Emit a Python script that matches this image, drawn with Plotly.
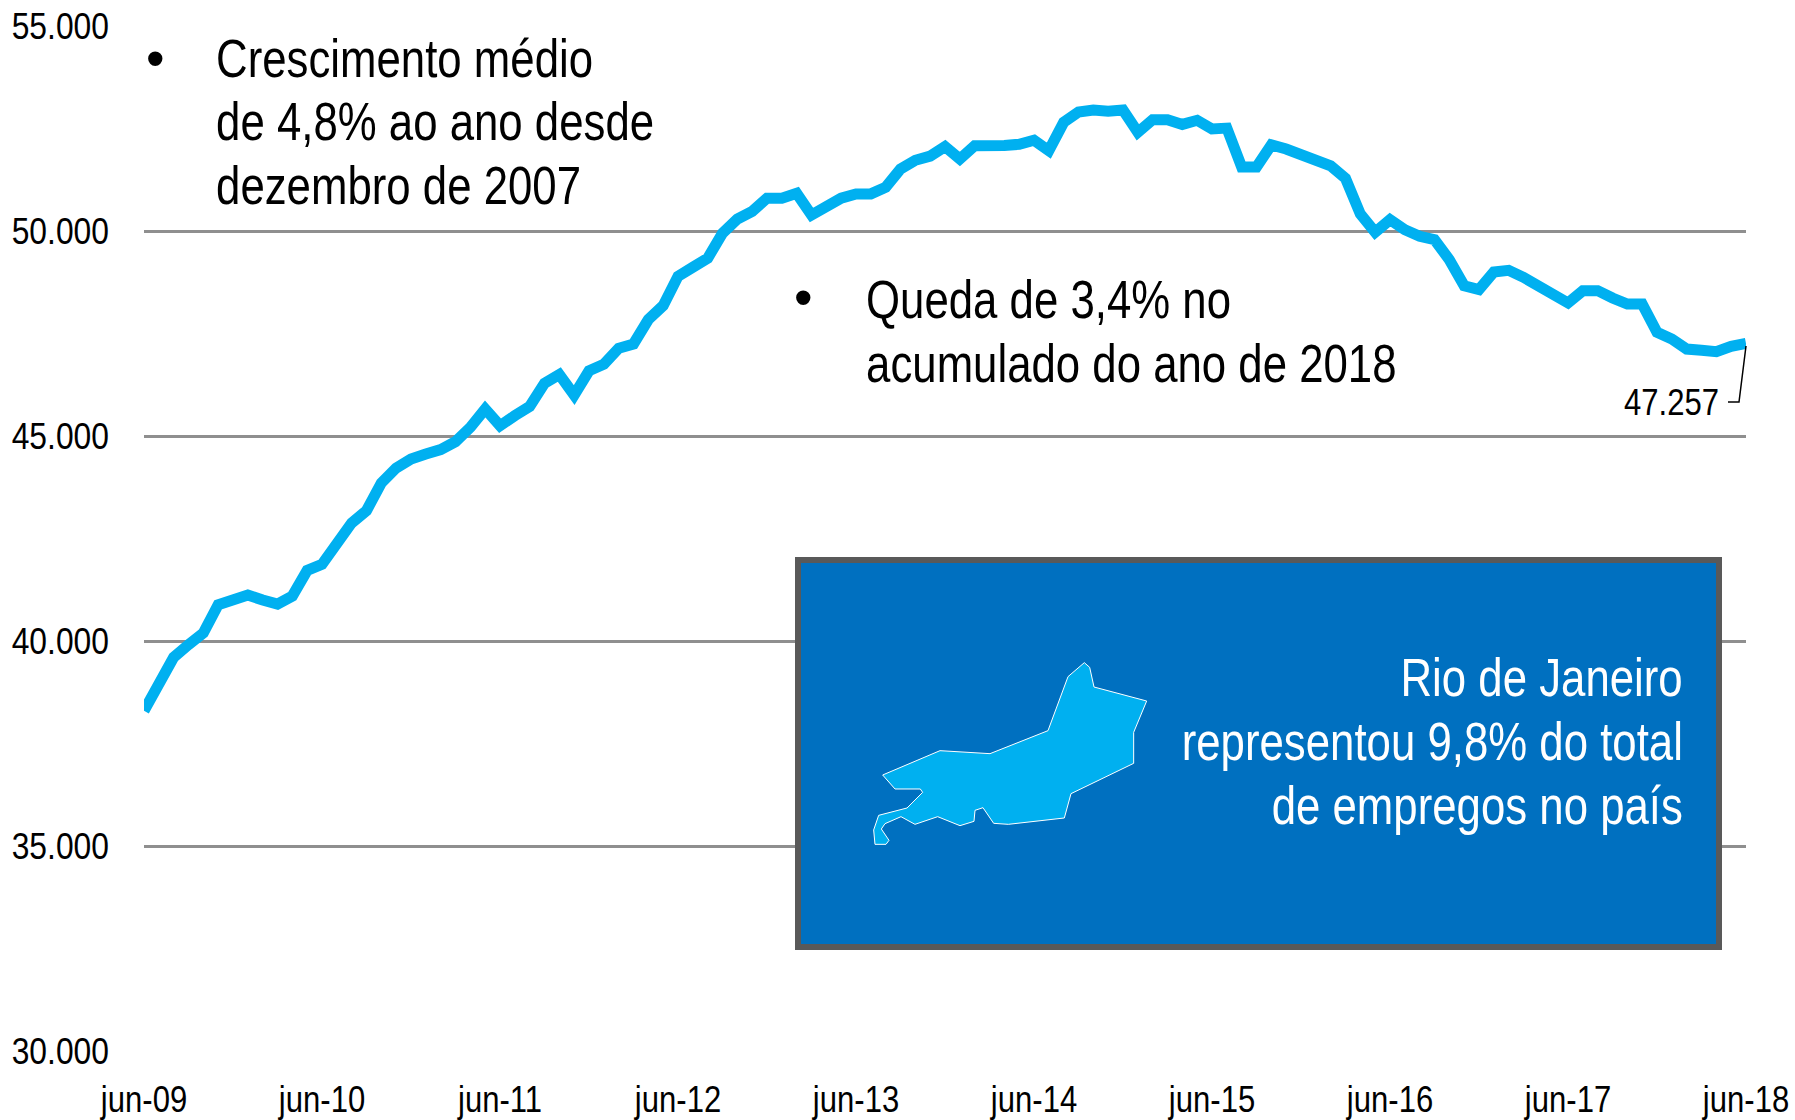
import plotly.graph_objects as go

MONTHS = ["jan", "fev", "mar", "abr", "mai", "jun", "jul", "ago", "set", "out", "nov", "dez"]
categories = []
for yy in range(9, 19):
    for m, name in enumerate(MONTHS):
        if (yy == 9 and m < 5) or (yy == 18 and m > 5):
            continue
        categories.append(f"{name}-{yy:02d}")

values = [
    38300, 39000, 39600, 39910, 40195, 40885, 41020, 41120, 41000, 40900,
    41095, 41720, 41870, 42410, 42880, 43180, 43855, 44220, 44440, 44560,
    44670, 44860, 45210, 45660, 45250, 45495, 45720, 46285, 46500, 46000,
    46590, 46750, 47140, 47245, 47840, 48180, 48895, 49115, 49335, 49945,
    50290, 50480, 50800, 50800, 50920, 50390, 50600, 50800, 50905, 50905,
    51065, 51510, 51725, 51825, 52060, 51755, 52080, 52050, 52085, 52115,
    52215, 51960, 52650, 52900, 52950, 52920, 52950, 52405, 52715, 52715,
    52600, 52700, 52490, 52510, 51560, 51560, 52100, 52000, 51880, 51690,
    51590, 51285, 50415, 49970, 50275, 50030, 49870, 49790, 49300, 48665,
    48570, 49000, 49040, 48870, 48680, 48465, 48245, 48545, 48545, 48365,
    48220, 48220, 47530, 47365, 47120, 47090, 47055, 47185, 47257,
]

y_ticks = [30000, 35000, 40000, 45000, 50000, 55000]
y_tick_labels = ["30.000", "35.000", "40.000", "45.000", "50.000", "55.000"]
x_tick_labels = ["jun-09", "jun-10", "jun-11", "jun-12", "jun-13", "jun-14",
                 "jun-15", "jun-16", "jun-17", "jun-18"]

last_label = "47.257"
note_one = ["Crescimento médio", "de 4,8% ao ano desde", "dezembro de 2007"]
note_two = ["Queda de 3,4% no", "acumulado do ano de 2018"]
box_lines = ["Rio de Janeiro", "representou 9,8% do total", "de empregos no país"]

W, H = 1795, 1120
L, R, T, B = 144, 49, 26, 69
FONT = "Liberation Sans, Arial, sans-serif"
BLUE = "#00B0F0"


def px(x):
    return (x - L) / (W - L - R)


def py(y):
    return 1 - (y - T) / (H - T - B)


def text(s, x, y, anchor="left", size=53, color="#000000"):
    return dict(text=s, x=px(x), y=py(y), xref="paper", yref="paper",
                xanchor=anchor, yanchor="middle", showarrow=False,
                font=dict(family=FONT, size=size, color=color))


fig = go.Figure(go.Scatter(
    x=categories, y=values, mode="lines",
    line=dict(color=BLUE, width=11, shape="linear"),
    hoverinfo="skip",
))

map_outline = [
    (308, 705), (480, 632), (630, 641), (804, 572), (864, 410), (913, 368),
    (929, 382), (942, 441), (1100, 483), (1061, 577), (1061, 670), (873, 761),
    (853, 834), (685, 853), (641, 850), (609, 803), (585, 811), (582, 844),
    (540, 857), (473, 830), (405, 853), (363, 830), (315, 851), (304, 867),
    (327, 901), (318, 913), (285, 913), (281, 870), (296, 826), (381, 804),
    (428, 757), (421, 747), (345, 747),
]
map_path = "M " + " L ".join(
    f"{px(780 + a / 3):.5f},{py(540 + b / 3):.5f}" for a, b in map_outline) + " Z"
leader = [(1746, 346), (1739, 402), (1728, 402)]
leader_path = "M " + " L ".join(f"{px(a):.5f},{py(b):.5f}" for a, b in leader)

shapes = [
    dict(type="rect", xref="paper", yref="paper", x0=px(798), x1=px(1719),
         y0=py(947), y1=py(560), fillcolor="#0070C0",
         line=dict(color="#595959", width=6)),
    dict(type="path", xref="paper", yref="paper", path=map_path,
         fillcolor=BLUE, line=dict(color="#FFFFFF", width=1)),
    dict(type="path", xref="paper", yref="paper", path=leader_path,
         line=dict(color="#000000", width=1.5)),
]

annotations = [text("•", 155, 58, "center")]
annotations += [text(s, 214, y) for s, y in zip(note_one, [58.5, 122, 185.5])]
annotations += [text("•", 803, 297, "center")]
annotations += [text(s, 864, y) for s, y in zip(note_two, [299, 363])]
annotations += [text(s, 1685, y, "right", color="#FFFFFF")
                for s, y in zip(box_lines, [677, 741, 805])]
annotations.append(dict(
    text=last_label, x=categories[-1], y=values[-1], xref="x", yref="y",
    xanchor="center", yanchor="middle", showarrow=False, xshift=-75, yshift=-59,
    font=dict(family=FONT, size=37, color="#000000")))

fig.update_layout(
    width=W, height=H, autosize=False,
    margin=dict(l=L, r=R, t=T, b=B, pad=0),
    paper_bgcolor="#FFFFFF", plot_bgcolor="#FFFFFF",
    showlegend=False, shapes=shapes, annotations=annotations,
    font=dict(family=FONT, size=37, color="#000000"),
    xaxis=dict(type="category", categoryorder="array", categoryarray=categories,
               range=[0, len(categories) - 1], tickmode="array",
               tickvals=x_tick_labels, ticktext=x_tick_labels, automargin=False,
               showgrid=False, zeroline=False, showline=False, ticks="",
               tickangle=0, ticklabelstandoff=23,
               tickfont=dict(family=FONT, size=37, color="#000000")),
    yaxis=dict(range=[30000, 55000], tickmode="array", tickvals=y_ticks,
               ticktext=y_tick_labels, automargin=False, showgrid=True,
               gridcolor="#8F8F8F", gridwidth=2.5, zeroline=False, showline=False,
               ticks="", ticklabelstandoff=34,
               tickfont=dict(family=FONT, size=37, color="#000000")),
)

# The reference's lettering is Arial squeezed horizontally; keep real text and
# narrow the glyphs in the drawn SVG with a horizontal scale about each anchor.
squeeze = """
document.body.style.margin='0';document.body.style.overflow='hidden';
var gd=document.querySelector('.plotly-graph-div');
function sq(t,cx,s){var e=t.getAttribute('transform')||'';
  t.setAttribute('transform',e+' translate('+cx+',0) scale('+s+',1) translate('+(-cx)+',0)');}
gd.querySelectorAll('.xtick text').forEach(function(t){
  sq(t,parseFloat(t.getAttribute('x'))||0,0.84);});
gd.querySelectorAll('.ytick text').forEach(function(t){
  sq(t,parseFloat(t.getAttribute('x'))||0,0.86);});
gd.querySelectorAll('.annotation').forEach(function(a){
  var t=a.querySelector('text'); if(!t||t.textContent==='\\u2022') return;
  var anchor=gd.layout.annotations[+a.getAttribute('data-index')].xanchor;
  var n=t.getComputedTextLength(), x=parseFloat(t.getAttribute('x'))||0;
  if(anchor==='left') sq(t,x-n/2,0.826);
  else if(anchor==='right') sq(t,x+n/2,0.826);
  else sq(t,x,0.84);
});
"""
fig.write_html("out.html", config={"displayModeBar": False}, post_script=squeeze)
